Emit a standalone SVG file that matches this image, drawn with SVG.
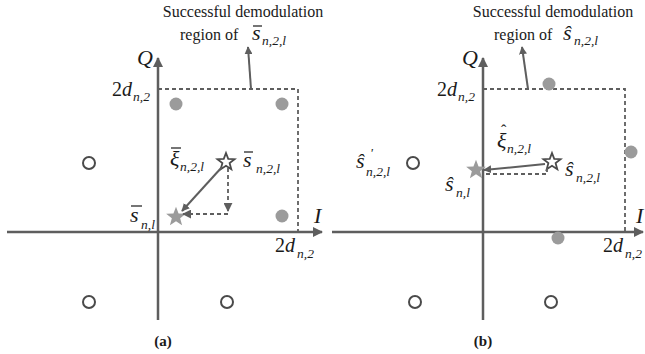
<svg xmlns="http://www.w3.org/2000/svg" width="645" height="354" viewBox="0 0 645 354">
<style>
.ax{stroke:#5e5e5e;stroke-width:2.5;fill:none}
.ln{stroke:#5e5e5e;stroke-width:2;fill:none}
.dash{stroke:#5e5e5e;stroke-width:1.8;fill:none;stroke-dasharray:4 3}
.fc{fill:#9b9b9b}
.oc{fill:#fff;stroke:#4a4a4a;stroke-width:2}
.hs{fill:#fff;stroke:#4a4a4a;stroke-width:1.8}
.gs{fill:#9b9b9b}
text{font-family:"Liberation Serif","Times New Roman","DejaVu Serif",serif;fill:#1a1a1a}
.tx{font-size:16px}
.m{font-style:italic;font-size:22px}
.m2{font-size:20px}
.sb{font-style:italic;font-size:13.5px}
.hat{font-size:16px}
.cap{font-weight:bold;font-size:15px;text-anchor:middle}
.bar{stroke:#1a1a1a;stroke-width:1.2}
</style>
<defs>
<marker id="ah" viewBox="0 0 10 10" refX="9" refY="5" markerWidth="4" markerHeight="4" orient="auto" markerUnits="strokeWidth">
<path d="M0,0 L10,5 L0,10 z" fill="#5e5e5e"/>
</marker>
<marker id="ahd" viewBox="0 0 10 10" refX="9" refY="5" markerWidth="5" markerHeight="5" orient="auto" markerUnits="strokeWidth">
<path d="M0,0 L10,5 L0,10 z" fill="#5e5e5e"/>
</marker>
<path id="star" d="M0,-9 L2.23,-3.07 L8.56,-2.78 L3.61,1.17 L5.29,7.28 L0,3.8 L-5.29,7.28 L-3.61,1.17 L-8.56,-2.78 L-2.23,-3.07 Z"/>
</defs>

<!-- Panel (a) -->
<g id="panel-a">
<g id="a-axes">
<line class="ax" x1="7" y1="232" x2="322" y2="232" marker-end="url(#ah)"/>
<line class="ax" x1="158" y1="320" x2="158" y2="58" marker-end="url(#ah)"/>
</g>
<g id="a-region">
<path class="dash" d="M158,89 H298 V232"/>
</g>
<g id="a-points">
<circle class="fc" cx="176" cy="104" r="6.5"/>
<circle class="fc" cx="282" cy="104" r="6.5"/>
<circle class="fc" cx="282" cy="216" r="6.5"/>
<circle class="oc" cx="89" cy="163" r="6"/>
<circle class="oc" cx="89" cy="302" r="6"/>
<circle class="oc" cx="227" cy="302" r="6"/>
<use href="#star" class="hs" transform="translate(226,162)"/>
<use href="#star" class="gs" transform="translate(176,217) scale(1.15)"/>
</g>
<g id="a-connectors">
<line class="ln" x1="251" y1="89" x2="248" y2="47" marker-end="url(#ah)"/>
<line class="ln" x1="222" y1="167" x2="182" y2="211" marker-end="url(#ah)"/>
<path class="dash" d="M228,168 V211" marker-end="url(#ahd)"/>
<path class="dash" d="M228,214 H183" marker-end="url(#ahd)"/>
</g>
<g id="a-labels">
<text class="tx" x="243" y="17" text-anchor="middle">Successful demodulation</text>
<text class="tx" x="180" y="40">region of</text>
<text class="m" x="252" y="40">s</text><line class="bar" x1="253" y1="26" x2="262" y2="26"/>
<text class="sb" x="262" y="45">n,2,l</text>
<text class="m" x="137" y="65">Q</text>
<text class="m2" x="112" y="96">2<tspan font-style="italic">d</tspan></text>
<text class="sb" x="133" y="101">n,2</text>
<text class="m" x="170" y="166">ξ</text><line class="bar" x1="171" y1="148" x2="181" y2="148"/>
<text class="sb" x="180" y="171">n,2,l</text>
<text class="m" x="243" y="167">s</text><line class="bar" x1="244" y1="152" x2="253" y2="152"/>
<text class="sb" x="256" y="173">n,2,l</text>
<text class="m" x="130" y="222">s</text><line class="bar" x1="131" y1="206" x2="142" y2="206"/>
<text class="sb" x="141" y="229">n,l</text>
<text class="m" x="314" y="223">I</text>
<text class="m2" x="275" y="252">2<tspan font-style="italic">d</tspan></text>
<text class="sb" x="297" y="258">n,2</text>
<text class="cap" x="163" y="346">(a)</text>
</g>
</g>

<!-- Panel (b) -->
<g id="panel-b">
<g id="b-axes">
<line class="ax" x1="332" y1="232" x2="643" y2="232" marker-end="url(#ah)"/>
<line class="ax" x1="483" y1="320" x2="483" y2="58" marker-end="url(#ah)"/>
</g>
<g id="b-region">
<path class="dash" d="M483,89 H625 V232"/>
</g>
<g id="b-points">
<circle class="fc" cx="549" cy="84" r="6.5"/>
<circle class="fc" cx="631" cy="152" r="6.5"/>
<circle class="fc" cx="558" cy="238" r="6.5"/>
<circle class="oc" cx="413" cy="163" r="6"/>
<circle class="oc" cx="415" cy="302" r="6"/>
<circle class="oc" cx="551" cy="302" r="6"/>
<use href="#star" class="hs" transform="translate(552,162)"/>
<use href="#star" class="gs" transform="translate(476,170) scale(1.15)"/>
</g>
<g id="b-connectors">
<line class="ln" x1="528" y1="89" x2="522" y2="47" marker-end="url(#ah)"/>
<line class="ln" x1="545" y1="164" x2="484" y2="170" marker-end="url(#ah)"/>
<path class="dash" d="M547,168 V174 H486"/>
</g>
<g id="b-labels">
<text class="tx" x="553" y="17" text-anchor="middle">Successful demodulation</text>
<text class="tx" x="494" y="40">region of</text>
<text class="m" x="563" y="40">ŝ</text>
<text class="sb" x="574" y="45">n,2,l</text>
<text class="m" x="462" y="65">Q</text>
<text class="m2" x="437" y="96">2<tspan font-style="italic">d</tspan></text>
<text class="sb" x="458" y="101">n,2</text>
<text class="m" x="497" y="148">ξ</text>
<text class="hat" x="501" y="136">ˆ</text>
<text class="sb" x="507" y="153">n,2,l</text>
<text class="m" x="565" y="176">ŝ</text>
<text class="sb" x="576" y="182">n,2,l</text>
<text class="m" x="445" y="191">ŝ</text>
<text class="sb" x="456" y="197">n,l</text>
<text class="m" x="356" y="168">ŝ</text>
<text class="sb" x="370" y="157">'</text>
<text class="sb" x="366" y="176">n,2,l</text>
<text class="m" x="636" y="223">I</text>
<text class="m2" x="603" y="252">2<tspan font-style="italic">d</tspan></text>
<text class="sb" x="625" y="258">n,2</text>
<text class="cap" x="483" y="346">(b)</text>
</g>
</g>
</svg>
